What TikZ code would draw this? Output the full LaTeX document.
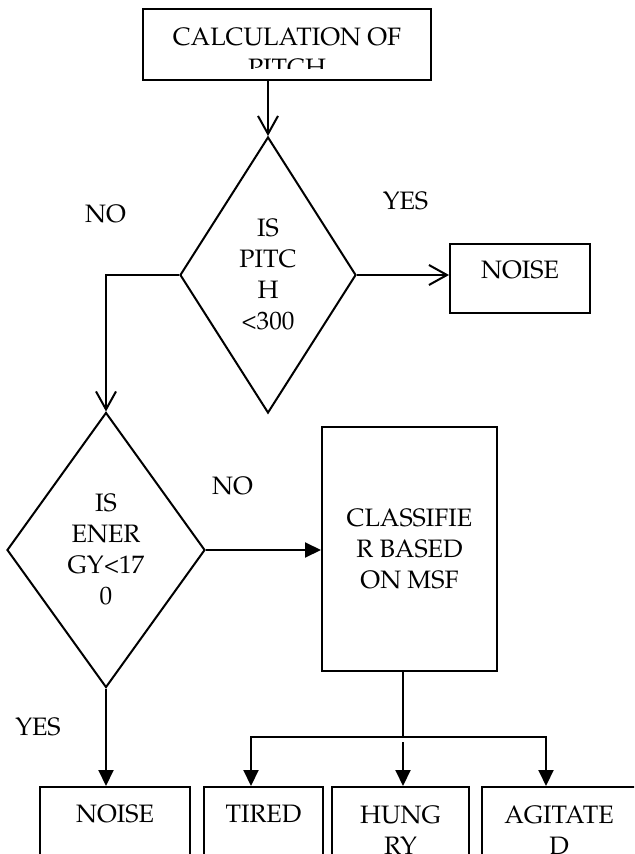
\documentclass[tikz,border=0pt]{standalone}
\usepackage[T1]{fontenc}
\usepackage{mathpazo}
\usepackage{tikz}
\usetikzlibrary{shapes.geometric,arrows.meta}

\begin{document}
\begin{tikzpicture}[x=0.5pt, y=-0.5pt, line width=1pt,
    >={Triangle[length=8pt,width=7.5pt]},
    font=\fontsize{12.6}{15.5}\selectfont]
  \tikzstyle{pbox}=[rectangle, draw, line width=1pt, inner sep=0pt, align=center]
  \tikzstyle{qbox}=[diamond, draw, line width=1pt, inner sep=0pt, align=center, aspect=0.64]
  \tikzstyle{lbl}=[inner sep=0pt]
  \tikzstyle{oarr}=[-{Straight Barb[length=9pt,width=10pt]}, line width=1pt]
  \tikzstyle{farr}=[->, line width=1pt]

  \useasboundingbox (0,0) rectangle (634,854);
  \clip (0,0) rectangle (634,854);

  % start box, text cut off at the bottom
  \node[pbox, minimum width=144pt, minimum height=35.5pt] at (287,44.5) (calc) {};
  \begin{scope}
    \clip (calc.north west) rectangle ([yshift=6pt]calc.south east);
    \node[lbl, align=center] at (287,52.5) (calctxt) {CALCULATION OF\\PITCH};
  \end{scope}

  \node[qbox, minimum width=88pt, minimum height=138pt] at (268,275) (pitchq) {IS\\PITC\\H\\<300};
  \node[pbox, minimum width=70pt, text height=17.25pt, text depth=17.25pt] at (520,278.5) (noiseA) {NOISE};

  \node[qbox, minimum width=99pt, minimum height=137.5pt] at (106,550) (energyq) {IS\\ENER\\GY<17\\0};
  \node[pbox, minimum width=87.5pt, minimum height=122pt] at (409.5,549) (classif) {CLASSIFIE\\R BASED\\ON MSF};

  % outputs
  \node[pbox, anchor=north, minimum width=75pt, text height=17.75pt, text depth=40pt] at (115,786) (noiseB) {NOISE};
  \node[pbox, anchor=north, minimum width=59.5pt, text height=17.75pt, text depth=40pt] at (263.5,786) (tired) {TIRED};
  \node[pbox, anchor=north, minimum width=68.5pt, minimum height=43.5pt] at (400.5,786) (hungry) {HUNG\\RY};
  \node[pbox, anchor=north, minimum width=77pt, minimum height=43.5pt] at (559,786) (agit) {AGITATE\\D};

  \node[lbl] at (105.5,214) (no1) {NO};
  \node[lbl] at (405.5,201) (yes1) {YES};
  \node[lbl] at (232.5,486) (no2) {NO};
  \node[lbl] at (38,727.5) (yes2) {YES};

  \draw[oarr] (calc.south -| pitchq.north) -- (pitchq.north);
  \draw[oarr] (pitchq.east) -- (pitchq.east -| noiseA.west);
  \draw[oarr] (pitchq.west) -| (energyq.north);
  \draw[farr] (energyq.east) -- (energyq.east -| classif.west);
  \draw[farr] (energyq.south) -- (energyq.south |- noiseB.north);

  \coordinate (split) at (403,737);
  \coordinate (barL) at (251,737);
  \coordinate (barR) at (546,737);
  \draw[line width=0.6pt] (classif.south -| split) -- (split);
  \draw[<->] (barL |- tired.north) -- (barL) -- (barR) -- (barR |- agit.north);
  \draw[farr] ([yshift=-2.5pt]split) -- (split |- hungry.north);
\end{tikzpicture}
\end{document}
